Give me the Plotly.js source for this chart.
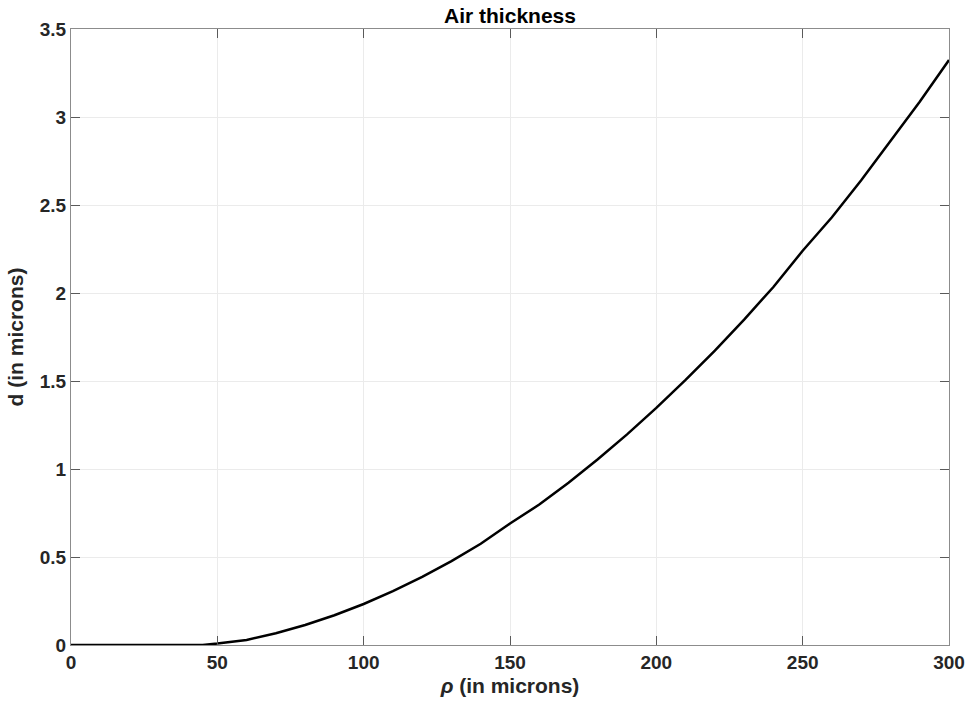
<!DOCTYPE html>
<html>
<head>
<meta charset="utf-8">
<script src="https://cdn.plot.ly/plotly-3.0.1.min.js"></script>
<style>html,body{margin:0;padding:0;background:#fff;}#chart{width:971px;height:711px;}</style>
</head>
<body>
<div id="chart"></div>
<script>
const rho = [0, 10, 20, 30, 40, 45, 50, 60, 70, 80, 90, 100, 110, 120, 130, 140, 150, 160, 170, 180, 190, 200, 210, 220, 230, 240, 250, 260, 270, 280, 290, 300];
const d   = [0, 0, 0, 0, 0, 0, 0.008, 0.029, 0.067, 0.114, 0.169, 0.233, 0.306, 0.387, 0.477, 0.575, 0.69, 0.798, 0.922, 1.055, 1.197, 1.347, 1.506, 1.673, 1.849, 2.034, 2.24, 2.43, 2.64, 2.86, 3.087, 3.324];
const xTicks = [0, 50, 100, 150, 200, 250, 300];
const yTicks = [0, 0.5, 1, 1.5, 2, 2.5, 3, 3.5];

const fontFam = 'Liberation Sans, Arial, Helvetica, sans-serif';
const axisCommon = {
  showline: true, linecolor: '#8c8c8c', linewidth: 1, mirror: 'ticks',
  ticks: 'inside', ticklen: 9, tickcolor: '#5a5a5a', tickwidth: 1,
  showgrid: true, gridcolor: '#ebebeb', gridwidth: 1,
  zeroline: false,
  tickfont: {family: fontFam, size: 19, color: '#262626', weight: 'bold'}
};

Plotly.newPlot('chart', [{
  x: rho, y: d, type: 'scatter', mode: 'lines',
  line: {color: '#000000', width: 2.5}
}], {
  width: 971, height: 711,
  margin: {l: 71, r: 22, t: 29, b: 66},
  paper_bgcolor: '#ffffff', plot_bgcolor: '#ffffff',
  showlegend: false,
  title: {text: '<b>Air thickness</b>', xref: 'paper', x: 0.5, xanchor: 'center', yref: 'container', y: 0.978, yanchor: 'middle',
          font: {family: fontFam, size: 21, color: '#000'}},
  xaxis: Object.assign({}, axisCommon, {
    range: [0, 300], tickvals: xTicks, ticktext: xTicks.map(String),
    title: {text: '<b><i>ρ</i> (in microns)</b>', standoff: 6, font: {family: fontFam, size: 21, color: '#262626'}}
  }),
  yaxis: Object.assign({}, axisCommon, {
    range: [0, 3.5], tickvals: yTicks, ticktext: yTicks.map(String),
    title: {text: '<b>d (in microns)</b>', standoff: 10, font: {family: fontFam, size: 21, color: '#262626'}}
  })
}, {staticPlot: true});
</script>
</body>
</html>
